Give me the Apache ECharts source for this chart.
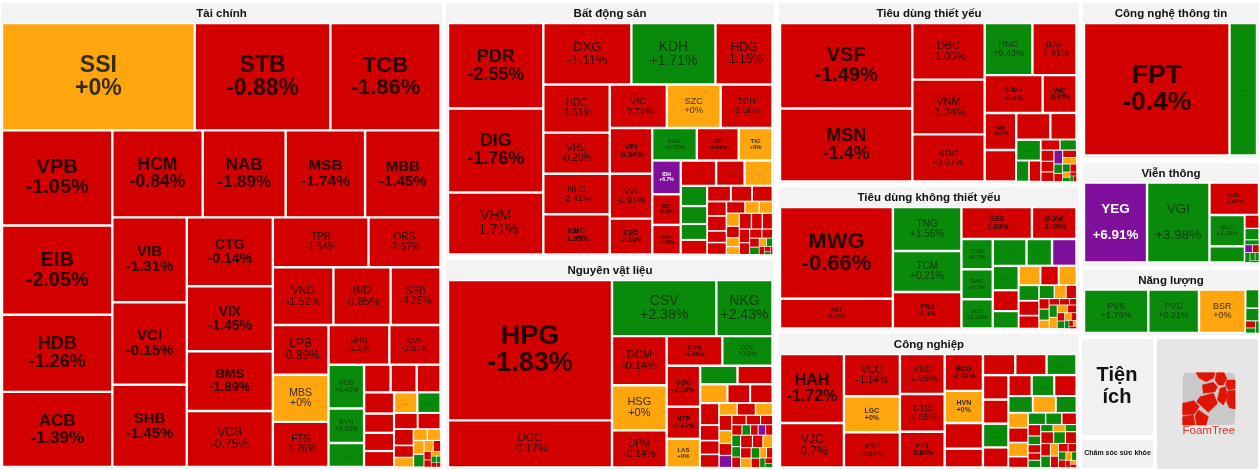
<!DOCTYPE html>
<html>
<head>
<meta charset="utf-8">
<style>
  html, body { margin: 0; background: #fff; }
  #chart { width: 1260px; height: 470px; }
</style>
<script src="https://cdn.jsdelivr.net/npm/echarts@6/dist/echarts.min.js"></script>
</head>
<body>
<div id="chart"></div>
<script>
// names only cover the labelled cells, the rest of a sector has no readable ticker
// changes of those unnamed cells are rough: they only carry the colour
// strips = how many cells go in each row/column before the treemap turns, what is left over goes at the end
const finNames = ['SSI','STB','TCB','VPB','EIB','HDB','ACB','HCM','NAB','MSB','MBB','VIB','VCI','SHB','CTG','VIX','BMS','VCB','TPB','ORS','VND','BID','SSB','LPB','MBS','FTS','SHS','EVF','VDS','BVH']
const finChanges = [0,-0.88,-1.86,-1.05,-2.05,-1.26,-1.39,-0.84,-1.89,-1.74,-1.45,-1.31,-0.15,-1.45,-0.14,-1.45,-1.89,-0.75,-1.54,-2.67,-1.52,-0.85,-4.35,-0.89,0,-1.26,-1.5,-2.57,0.43,0.33,1,-1,-1,-1,-1,-1,-1,-1,0,1,-1,-1,-1,-1,0,0,0,0,1,0,-1,-1,-1,0,1,1,-1,-1]
const finSizes = [20597,14498,11770,10450,9790,8470,8250,7828,7180,6877,6531,6290,6120,6100,5900,5560,5130,4790,4750,3575,3480,3290,2870,2750,2610,2500,2400,2020,1550,1225,850,730,720,655,635,577,544,477,477,477,377,366,316,233,183,155,150,144,133,100,78,61,50,44,33,28,22,17]
const finStrips = [3,4,4,3,4,2,3,3,2,3,3,4,2,2,3,2,2]

const bdsNames = ['PDR','DIG','VHM','DXG','KDH','HDG','HDC','VRE','NLG','KBC','VIC','SZC','TCH','VPI','NVL','CEO','KHG','BIP','TIG','IDH','IDC','NHA']
const bdsChanges = [-2.55,-1.76,-1.71,-1.11,1.71,-1.15,-1.51,-0.29,-2.41,-1.95,-0.74,0,-2.58,-0.34,-0.95,-2.14,0.72,-0.84,0,6.7,-0.18,-1.38,-1,-1,0,1,1,1,-1,-1,-1,-1,-1,-1,-1,-1,-1,0,0,0,-1,0,0,-1,-1,-1,-1,-1,-1,-1,-1,1,0,1,-1,-1,1,-1]
const bdsSizes = [8080,7940,5860,5368,5124,3477,3170,2710,2670,2650,2464,2322,2236,1930,1890,1510,1440,1350,1090,960,870,840,889,718,702,530,470,416,382,368,329,319,274,287,222,228,215,166,155,165,147,113,100,190,170,160,140,120,110,95,85,70,60,50,40,30,20,15]
const bdsStrips = [3,3,4,3,3,3,3,3,4,3,4,3,4]

const matNames = ['HPG','DGC','CSV','NKG','DCM','HSG','DPM','GVR','DDV','VGC','NTP','LAS']
const matChanges = [-1.83,-0.17,2.38,2.43,-0.14,0,-0.14,-1.44,0.3,-1.26,-0.47,0,1,-1,0,-1,-1,-1,-1,-1,-1,0,-1,0,-1,0,-1,7,-1,-1,-1,-1,1,-1,7,-1,1,1,-1,-1,-1,0,-1,0,1,-1,0,-1,1,-1,1]
const matSizes = [22890,7685,5830,3135,2670,2450,2020,1640,1480,1360,1070,955,688,644,512,424,419,418,293,260,249,218,222,206,192,161,151,151,136,136,113,104,88,77,77,70,100,90,90,150,130,120,110,100,90,80,70,60,50,40,30]
const matStrips = [2,2,3,2,3,2,3,4,3,4,3,5,3,3]

const stapleNames = ['VSF','MSN','DBC','VNM','KDC','HNG','BAF','HAG','VHC','SAB']
const stapleChanges = [-1.49,-1.4,-1.05,-1.24,-0.67,9.43,-1.31,-0.4,-0.95,-0.87,-1,-1,-1,1,1,-1,-1,1,-1,-1,-1,7,-1,0,1,-1,1,-1,0,1,-1,1,-1]
const stapleSizes = [11220,9570,4060,3930,3380,2466,2275,2175,1270,1160,983,908,697,514,264,247,197,170,143,136,123,120,100,90,80,70,60,50,40,30,25,20,15]
const stapleStrips = [2,3,2,2,2,2,3,2,3,3]

const discNames = ['MWG','PET','TNG','TCM','PNJ','GEX','DGW','CSM','DAC','VGT']
const discChanges = [-0.66,-0.97,1.56,0.21,-0.1,-1.03,-1.44,0.7,0.2,2.16,1,1,7,1,-1,1,0,-1,0,1,-1,-1,1,0,-1,-1,1,0,-1,-1,-1,1,0,0,-1,-1,1,0,-1,1,-1,0,-1]
const discSizes = [10270,3340,2992,2788,2482,2242,1416,942,933,911,898,678,652,627,540,447,419,350,344,314,300,260,204,156,139,103,110,83,64,64,42,100,90,80,70,60,55,50,40,35,25,20,15]
const discStrips = [2,3,2,3,3,3,3,3,3,3,3]

const indNames = ['HAH','VJC','VCG','LGC','VTP','VSC','CTD','PVT','BCG','HVN']
const indChanges = [-1.72,-0.7,-1.14,0,-0.67,-1.59,-1.05,-0.64,-2.02,0,-1,-1,-1,-1,1,-1,-1,1,-1,-1,1,-1,1,0,1,0,-1,0,-1,1,1,-1,-1,1,-1,-1,1,1,0,1,-1,1,-1,-1,1,0,-1,-1,-1,1,-1,0,1,-1,0,-1]
const indSizes = [4380,2825,2350,1995,1960,1780,1680,1590,1400,1220,980,710,677,656,629,620,610,602,508,483,469,463,405,384,344,290,290,276,211,204,189,171,143,108,104,91,91,86,86,79,150,140,130,120,110,100,90,80,70,60,55,50,40,30,25,20]
const indStrips = [2,3,3,4,3,4,3,3,4,3,5,3,3]

const techNames = ['FPT']
const techChanges = [-0.4,1]
const techSizes = [19280,3640]
const techStrips = [1,1]

const telNames = ['YEG','VGI','CTR','ELC']
const telChanges = [6.91,3.98,-0.24,1.28,1,-1,1,1,7,-1,1,1,1,1]
const telSizes = [5064,5016,1617,1110,580,190,162,69,60,50,50,40,30,20]
const telStrips = [2,1,2,3]

const energyNames = ['PVS','PVD','BSR']
const energyChanges = [1.76,0.21,0,1,1,-1,1,1]
const energySizes = [2798,2204,2030,250,170,70,50,40]
const energyStrips = [3,2]

// label font size per ticker
const fontSizes = {
  SSI: 23, STB: 23, TCB: 22, VPB: 20, EIB: 20, HDB: 18, ACB: 17, HCM: 17.5, NAB: 17, MSB: 15.5, MBB: 15,
  VIB: 15, VCI: 15, SHB: 15, CTG: 14, VIX: 14, BMS: 13, VCB: 12, TPB: 10, ORS: 10, VND: 11, BID: 11, SSB: 10,
  LPB: 12, MBS: 10.5, FTS: 10, SHS: 8.5, EVF: 8.5, VDS: 7, BVH: 7,
  PDR: 18, DIG: 18, VHM: 14, DXG: 13, KDH: 14, HDG: 12, HDC: 10, VRE: 10, NLG: 9, KBC: 8, VIC: 9.5, SZC: 9, TCH: 9,
  VPI: 8, NVL: 9, CEO: 7, KHG: 6, BIP: 6, TIG: 6, IDH: 5, IDC: 5, NHA: 5,
  HPG: 27, DGC: 11, CSV: 14, NKG: 14, DCM: 11, HSG: 11, DPM: 10, GVR: 6.5, DDV: 6.5, VGC: 7, NTP: 7, LAS: 6,
  VSF: 20, MSN: 18, DBC: 11, VNM: 11, KDC: 9.5, HNG: 9, BAF: 9, HAG: 7.5, VHC: 6.5, SAB: 5,
  MWG: 22, PET: 5.5, TNG: 10, TCM: 10, PNJ: 7, GEX: 7.5, DGW: 7.5, CSM: 6, DAC: 6, VGT: 6,
  HAH: 16, VJC: 12, VCG: 10, LGC: 7, VTP: 7.5, VSC: 9.5, CTD: 9, PVT: 7, BCG: 7, HVN: 7,
  FPT: 26.5, YEG: 13.5, VGI: 13.5, CTR: 6, ELC: 6, PVS: 9, PVD: 9, BSR: 9
}
const wideLines = { YEG: 26, VGI: 26 }
const regularNames = ['DXG', 'VHM']

const RED = '#d30000'
const GREEN = '#0a8a0a'
const ORANGE = '#ffa50d'
const PURPLE = '#800f9b'
const DOTS_MIN_SIZE = 260

const colorOf = (change) => {
  if (change >= 6.7 && change < 9) return PURPLE
  if (change > 0) return GREEN
  if (change < 0) return RED
  return ORANGE
}

const labelOf = (name, change, size) => {
  if (!name) {
    return {
      show: size >= DOTS_MIN_SIZE,
      fontSize: 8,
      color: 'rgba(0, 0, 0, 0.45)'
    }
  }
  const fontSize = fontSizes[name]
  const color = colorOf(change)
  const heavy = color === PURPLE || (color !== GREEN && (fontSize >= 13 || fontSize <= 8) && !regularNames.includes(name))
  return {
    show: true,
    fontSize,
    lineHeight: wideLines[name] || fontSize,
    fontWeight: heavy ? 'bold' : 'normal',
    color: color === PURPLE ? '#fff' : color === GREEN ? 'rgba(15, 40, 15, 0.8)' : color === ORANGE ? 'rgba(30, 30, 30, 0.9)' : 'rgba(25, 0, 0, 0.92)'
  }
}

const buildCells = (names, changes, sizes) =>
  sizes.map((size, i) => ({
    name: names[i] || '',
    value: size,
    change: changes[i],
    itemStyle: {
      color: colorOf(changes[i]),
      borderColor: '#fff',
      borderWidth: Math.min(1.2, Math.sqrt(size) / 20)
    },
    label: labelOf(names[i], changes[i], size)
  }))

// each strip against "everything after it": the treemap puts the first part along the short side
const nestStrips = (cells, strips) => {
  if (!strips.length) return cells
  const head = cells.slice(0, strips[0])
  const tail = cells.slice(strips[0])
  const headNode = head.length === 1 ? head[0] : { name: '', children: head }
  if (!tail.length) return [headNode]
  return [headNode, { name: '', children: nestStrips(tail, strips.slice(1)) }]
}

const formatLabel = (params) => {
  const { name, change } = params.data
  if (!name) return '...'
  return `${name}\n${change >= 0 ? '+' : ''}${change}%`
}

// panel = grey box with the title, area = where the treemap of that sector goes
const sectors = [
  { title: 'Tài chính', panel: [1, 3, 441, 465], area: [2, 23, 438.5, 444], cells: buildCells(finNames, finChanges, finSizes), strips: finStrips },
  { title: 'Bất động sản', panel: [446, 3, 328, 253], area: [448, 23, 324.5, 231.5], cells: buildCells(bdsNames, bdsChanges, bdsSizes), strips: bdsStrips },
  { title: 'Nguyên vật liệu', panel: [446, 260, 328, 209], area: [448, 280, 324.5, 187.5], cells: buildCells(matNames, matChanges, matSizes), strips: matStrips },
  { title: 'Tiêu dùng thiết yếu', panel: [779, 3, 300, 180], area: [780, 23, 296.5, 158.5], cells: buildCells(stapleNames, stapleChanges, stapleSizes), strips: stapleStrips },
  { title: 'Tiêu dùng không thiết yếu', panel: [779, 187, 300, 143], area: [780, 207, 296.5, 121.5], cells: buildCells(discNames, discChanges, discSizes), strips: discStrips },
  { title: 'Công nghiệp', panel: [779, 334, 300, 135], area: [780, 354, 296.5, 113.5], cells: buildCells(indNames, indChanges, indSizes), strips: indStrips },
  { title: 'Công nghệ thông tin', panel: [1083, 3, 176, 155], area: [1084, 23, 173, 132.5], cells: buildCells(techNames, techChanges, techSizes), strips: techStrips },
  { title: 'Viễn thông', panel: [1083, 163, 176, 103], area: [1084, 182.5, 175, 80], cells: buildCells(telNames, telChanges, telSizes), strips: telStrips },
  { title: 'Năng lượng', panel: [1083, 270, 176, 65], area: [1084, 289.5, 175, 43.5], cells: buildCells(energyNames, energyChanges, energySizes), strips: energyStrips }
]

const FONT = 'Arial, "Liberation Sans", sans-serif'

const panelRect = ([x, y, width, height], fill) => ({
  type: 'rect',
  shape: { x, y, width, height, r: 2 },
  style: { fill },
  z: -2
})

const caption = (text, x, y, fontSize, extra) => ({
  type: 'text',
  x,
  y,
  style: { text, fill: '#111', font: `bold ${fontSize}px ${FONT}`, align: 'center', verticalAlign: 'middle', ...extra },
  z: -1
})

// FoamTree badge, polygons in a 0-157 box scaled into the corner panel
const logoCells = [
  [[40,0],[97,0],[92,17],[70,27],[50,17]],
  [[102,0],[124,0],[132,17],[122,37],[107,37],[97,22]],
  [[132,22],[157,22],[157,47],[137,52],[129,37]],
  [[59,37],[92,29],[104,42],[97,57],[62,62]],
  [[112,47],[129,42],[134,72],[122,97],[104,82]],
  [[135,55],[157,52],[157,109],[140,105],[132,87]],
  [[52,72],[92,62],[104,92],[77,119],[42,87]],
  [[0,92],[34,84],[50,102],[34,125],[0,127]],
  [[0,132],[32,127],[37,157],[0,157]],
  [[47,112],[77,132],[70,157],[42,157],[37,130]]
]
const LOGO_X = 1182.7
const LOGO_Y = 372.7
const LOGO_SCALE = 1 / 3

const logoGraphics = [
  {
    type: 'rect',
    shape: { x: LOGO_X, y: LOGO_Y, width: 52.4, height: 52.4, r: 5 },
    style: { fill: '#c9c9c9' },
    z: -1
  },
  ...logoCells.map((points) => ({
    type: 'polygon',
    shape: { points: points.map(([x, y]) => [LOGO_X + x * LOGO_SCALE, LOGO_Y + y * LOGO_SCALE]) },
    style: { fill: '#e01405', stroke: '#e01405', lineWidth: 0.6 },
    z: -1
  })),
  {
    type: 'text',
    x: 1208.8,
    y: 431,
    style: { text: 'FoamTree', fill: '#d9342a', font: `11.5px ${FONT}`, align: 'center', verticalAlign: 'middle', letterSpacing: 0.3 },
    z: -1
  }
]

const chart = echarts.init(document.getElementById('chart'), null, { renderer: 'canvas' })

chart.setOption({
  animation: false,
  tooltip: { show: false },
  graphic: {
    elements: [
      ...sectors.flatMap((s) => [
        panelRect(s.panel, '#f3f3f3'),
        caption(s.title, s.panel[0] + s.panel[2] / 2, s.panel[1] + 10.5, 11.5)
      ]),
      panelRect([1082, 339, 71, 96], '#f1f1f1'),
      caption('Tiện\ních', 1117, 386, 20, { lineHeight: 22 }),
      panelRect([1082, 440, 71, 28], '#f1f1f1'),
      caption('Chăm sóc sức khỏe', 1117.5, 453, 7),
      panelRect([1157, 339, 101, 130], '#e6e6e6'),
      ...logoGraphics
    ]
  },
  series: sectors.map((s) => ({
    type: 'treemap',
    left: s.area[0],
    top: s.area[1],
    width: s.area[2],
    height: s.area[3],
    roam: false,
    nodeClick: false,
    silent: true,
    squareRatio: 1,
    sort: false,
    visibleMin: 0,
    breadcrumb: { show: false },
    itemStyle: { gapWidth: 0, borderWidth: 0, borderColor: '#fff' },
    label: {
      show: true,
      position: 'inside',
      align: 'center',
      verticalAlign: 'middle',
      overflow: 'none',
      fontFamily: FONT,
      formatter: formatLabel
    },
    data: nestStrips(s.cells, s.strips)
  }))
})
</script>
</body>
</html>
